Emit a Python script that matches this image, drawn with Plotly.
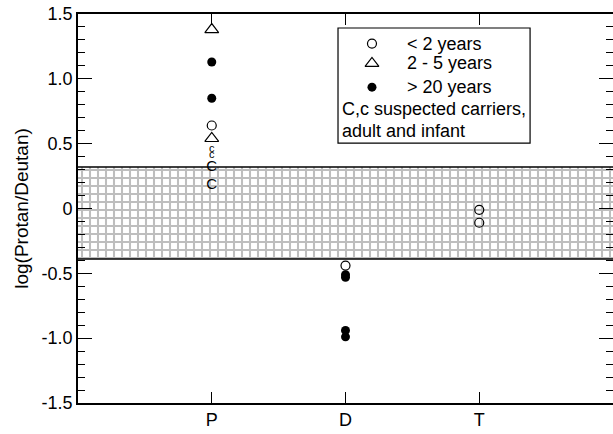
import plotly.graph_objects as go

# ---- data ----
categories = ["P", "D", "T"]
cat_pos = [1, 2, 3]

# open circles (< 2 years)
open_x = ["P", "D", "T", "T"]
open_y = [0.64, -0.44, -0.01, -0.11]
# open triangles (2 - 5 years)
tri_x = ["P", "P"]
tri_y = [1.38, 0.54]
# filled circles (> 20 years)
fill_x = ["P", "P", "D", "D", "D", "D"]
fill_y = [1.13, 0.85, -0.51, -0.53, -0.94, -0.99]
# suspected carriers: adult (C) and infant (c)
adult_x = ["P", "P"]
adult_y = [0.32, 0.18]
infant_x = ["P", "P"]
infant_y = [0.46, 0.41]

band_top = 0.32
band_bottom = -0.39

y_ticks = [1.5, 1.0, 0.5, 0.0, -0.5, -1.0, -1.5]
y_ticktext = ["1.5", "1.0", "0.5", "0", "-0.5", "-1.0", "-1.5"]

legend_labels = ["< 2 years", "2 - 5 years", "> 20 years"]
legend_note = ["C,c suspected carriers,", "adult and infant"]

pos = dict(zip(categories, cat_pos))

def px(xs):
    return [pos[c] for c in xs]

FONT = "Liberation Sans, Arial, Helvetica, sans-serif"

fig = go.Figure()

# normal range band
fig.add_trace(go.Scatter(
    x=[0, 4, 4, 0, 0],
    y=[band_top, band_top, band_bottom, band_bottom, band_top],
    mode="lines", fill="toself", line=dict(width=0),
    fillcolor="rgba(255,255,255,0)",
    fillpattern=dict(shape="+", fgcolor="#7d7d7d", bgcolor="white", size=8, solidity=0.45),
    hoverinfo="skip", showlegend=False,
))
for yv in [band_top, band_bottom]:
    fig.add_shape(type="line", xref="x", yref="y", x0=0, x1=4, y0=yv, y1=yv,
                  line=dict(color="black", width=1.6))

fig.add_trace(go.Scatter(x=px(open_x), y=open_y, mode="markers",
                         marker=dict(symbol="circle-open", size=9, color="black", line=dict(width=1.2)),
                         showlegend=False))
fig.add_trace(go.Scatter(x=px(tri_x), y=tri_y, mode="markers",
                         marker=dict(symbol="triangle-up-open", size=12, color="black", line=dict(width=1.2)),
                         showlegend=False))
fig.add_trace(go.Scatter(x=px(fill_x), y=fill_y, mode="markers",
                         marker=dict(symbol="circle", size=9, color="black"),
                         showlegend=False))
fig.add_trace(go.Scatter(x=px(adult_x), y=adult_y, mode="text", text=["C"] * len(adult_y),
                         textfont=dict(family=FONT, size=15, color="black"), showlegend=False))
fig.add_trace(go.Scatter(x=px(infant_x), y=infant_y, mode="text", text=["c"] * len(infant_y),
                         textfont=dict(family=FONT, size=11, color="black"), showlegend=False))

# legend (drawn manually in an overlay axis spanning the plot area)
leg_x = 0.5495
leg_rows = [0.924, 0.873, 0.812, 0.756, 0.700]
fig.add_trace(go.Scatter(x=[leg_x], y=[leg_rows[0]], xaxis="x2", yaxis="y2", mode="markers",
                         marker=dict(symbol="circle-open", size=9, color="black", line=dict(width=1.2)),
                         showlegend=False))
fig.add_trace(go.Scatter(x=[leg_x], y=[leg_rows[1]], xaxis="x2", yaxis="y2", mode="markers",
                         marker=dict(symbol="triangle-up-open", size=12, color="black", line=dict(width=1.2)),
                         showlegend=False))
fig.add_trace(go.Scatter(x=[leg_x], y=[leg_rows[2]], xaxis="x2", yaxis="y2", mode="markers",
                         marker=dict(symbol="circle", size=9, color="black"),
                         showlegend=False))
fig.add_shape(type="rect", xref="paper", yref="paper", x0=0.486, x1=0.845, y0=0.668, y1=0.964,
              line=dict(color="black", width=1.2), fillcolor="white", layer="below")
for i, lab in enumerate(legend_labels):
    fig.add_annotation(x=0.611, y=leg_rows[i], xref="paper", yref="paper", text=lab,
                       showarrow=False, xanchor="left", yanchor="middle",
                       font=dict(family=FONT, size=18, color="black"))
for i, lab in enumerate(legend_note):
    fig.add_annotation(x=0.489, y=leg_rows[3 + i], xref="paper", yref="paper", text=lab,
                       showarrow=False, xanchor="left", yanchor="middle",
                       font=dict(family=FONT, size=18, color="black"))

fig.update_layout(
    width=613, height=434,
    margin=dict(l=78, r=0, t=14, b=31),
    paper_bgcolor="white", plot_bgcolor="white",
    font=dict(family=FONT, size=18, color="black"),
    showlegend=False,
    xaxis=dict(range=[0, 4], tickvals=cat_pos, ticktext=categories, showgrid=False, zeroline=False,
               showline=True, linecolor="black", linewidth=1.6, mirror="ticks",
               ticks="inside", ticklen=11, tickwidth=1.3, tickcolor="black",
               tickfont=dict(size=18), automargin=False),
    yaxis=dict(range=[-1.5, 1.5], tickvals=y_ticks, ticktext=y_ticktext, showgrid=False, zeroline=False,
               showline=True, linecolor="black", linewidth=1.6, mirror="ticks",
               ticks="inside", ticklen=14, tickwidth=1.3, tickcolor="black",
               minor=dict(dtick=0.1, tick0=0, ticks="inside", ticklen=7, tickwidth=1.2, tickcolor="black", showgrid=False),
               tickfont=dict(size=18), automargin=False,
               title=dict(text="log(Protan/Deutan)", font=dict(size=19), standoff=8)),
    xaxis2=dict(overlaying="x", range=[0, 1], visible=False),
    yaxis2=dict(overlaying="y", range=[0, 1], visible=False),
)

fig.write_html("out.html", config={"displayModeBar": False},
               post_script="document.body.style.margin='0';document.body.style.overflow='hidden';")
